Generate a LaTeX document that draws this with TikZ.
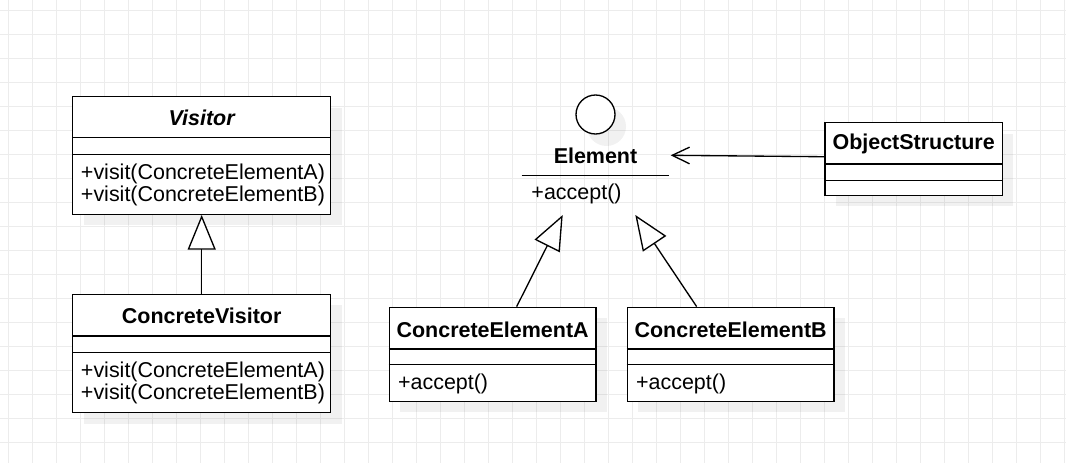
\documentclass[tikz,border=0pt]{standalone}
\usepackage{fontspec}
\setmainfont{Liberation Sans}
\usetikzlibrary{arrows.meta,fit}
\definecolor{gridc}{RGB}{236,236,236}
\begin{document}
\begin{tikzpicture}[x=0.75pt,y=-0.75pt,
  gridline/.style={draw=gridc, line width=0.75pt},
  shadowbox/.style={fill=black, fill opacity=0.055, draw=none},
  classbox/.style={draw=black, line width=1pt, fill=white, inner sep=0pt},
  divider/.style={draw=black, line width=1pt},
  titletext/.style={inner sep=0pt, font=\fontsize{16.1pt}{16.7pt}\selectfont\bfseries},
  member/.style={inner sep=0pt, anchor=west, align=left, font=\fontsize{16.1pt}{16.8pt}\selectfont},
  gen/.style={line width=1pt, -{Triangle[fill=white, length=26pt, width=21pt]}},
  assoc/.style={line width=1pt, -{Straight Barb[length=13pt, width=12.5pt]}}
]
\useasboundingbox (0,0) rectangle (1066,463);
\fill[white] (0,0) rectangle (1066,463);
% grid
\foreach \i in {0,...,44} { \draw[gridline] (8.3+24*\i,0) -- (8.3+24*\i,463); }
\foreach \j in {0,...,18} { \draw[gridline] (0,10.3+24*\j) -- (1066,10.3+24*\j); }

% shadows
\fill[shadowbox] (83.7,107.7) rectangle (341.7,225.3);
\fill[shadowbox] (83.7,305.3) rectangle (341.7,423.7);
\fill[shadowbox] (836,133.7) rectangle (1013.3,206.3);
\fill[shadowbox] (400.3,318.3) rectangle (607,412.3);
\fill[shadowbox] (638.3,318.3) rectangle (845,412.3);
\fill[shadowbox] (606.5,126.5) circle[radius=19.5];

% Visitor
\node[classbox, fit={(72.7,96.7) (330.7,214.3)}] (visitor) {};
\draw[divider] (visitor.west |- 0,137.3) -- (visitor.east |- 0,137.3);
\draw[divider] (visitor.west |- 0,154.7) -- (visitor.east |- 0,154.7);
\node[titletext] (visitor-t) at (201.7,118) {\itshape Visitor};
\node[member] (visitor-m) at (80.7,185) {+visit(ConcreteElementA)\\+visit(ConcreteElementB)};

% ConcreteVisitor
\node[classbox, fit={(72.7,294.3) (330.7,412.7)}] (cvisitor) {};
\draw[divider] (cvisitor.west |- 0,336) -- (cvisitor.east |- 0,336);
\draw[divider] (cvisitor.west |- 0,352.3) -- (cvisitor.east |- 0,352.3);
\node[titletext] (cvisitor-t) at (201.7,316) {ConcreteVisitor};
\node[member] (cvisitor-m) at (80.7,383.2) {+visit(ConcreteElementA)\\+visit(ConcreteElementB)};

% Element (interface)
\draw[line width=1pt, fill=white] (595.5,114.5) circle[radius=19.5];
\node[titletext] (element) at (595.5,155.5) {Element};
\draw[divider] (521.7,175.7) -- (669,175.7);
\node[member] (element-m) at (531.2,193.5) {+accept()};
\coordinate (elA) at (562.7,215);
\coordinate (elB) at (635.3,215);
\coordinate (elR) at (670.7,155.3);

% ObjectStructure
\node[classbox, fit={(825,122.7) (1002.3,195.3)}] (objs) {};
\draw[divider] (objs.west |- 0,164) -- (objs.east |- 0,164);
\draw[divider] (objs.west |- 0,180.3) -- (objs.east |- 0,180.3);
\node[titletext] (objs-t) at (913.65,144.3) {ObjectStructure};

% ConcreteElementA
\node[classbox, fit={(389.3,307.3) (596,401.3)}] (ceA) {};
\draw[divider] (ceA.west |- 0,349) -- (ceA.east |- 0,349);
\draw[divider] (ceA.west |- 0,364.7) -- (ceA.east |- 0,364.7);
\node[titletext] (ceA-t) at (492.65,330) {ConcreteElementA};
\node[member] (ceA-m) at (397.8,383.8) {+accept()};

% ConcreteElementB
\node[classbox, fit={(627.3,307.3) (834,401.3)}] (ceB) {};
\draw[divider] (ceB.west |- 0,349) -- (ceB.east |- 0,349);
\draw[divider] (ceB.west |- 0,364.7) -- (ceB.east |- 0,364.7);
\node[titletext] (ceB-t) at (730.65,330) {ConcreteElementB};
\node[member] (ceB-m) at (635.8,383.8) {+accept()};

% connectors
\draw[gen] (cvisitor.north) -- (visitor.south);
\draw[gen] ([xshift=18pt]ceA.north) -- (elA);
\draw[gen] ([xshift=-25.5pt]ceB.north) -- (elB);
\draw[assoc] ([yshift=1.7pt]objs.west) -- (elR);
\end{tikzpicture}
\end{document}
